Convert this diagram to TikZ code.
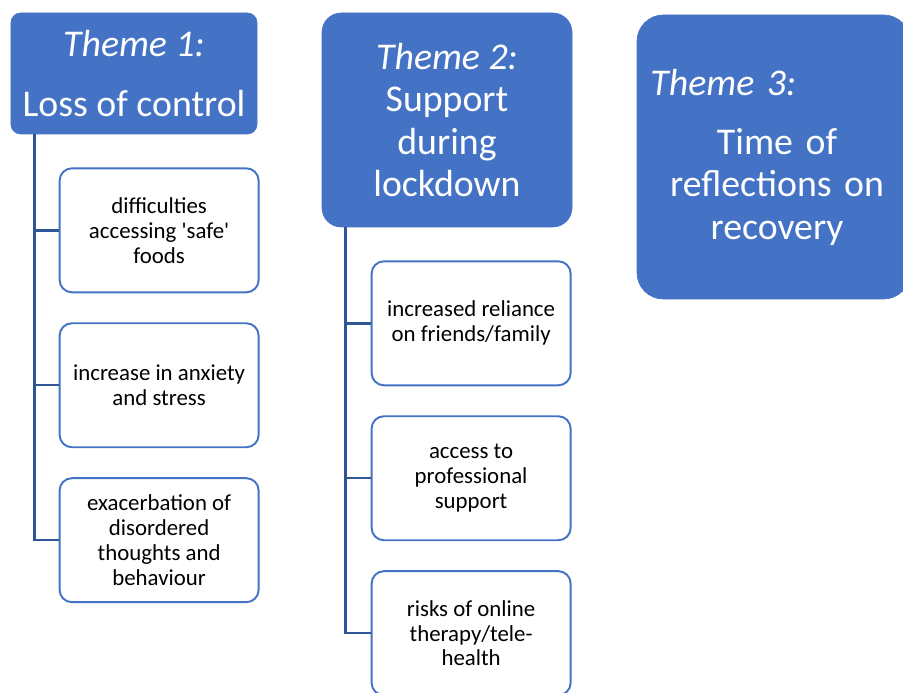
\documentclass[tikz,border=0pt]{standalone}
\usepackage{fontspec}
\setmainfont{Carlito}
\usetikzlibrary{positioning}
\definecolor{themeblue}{HTML}{4472C4}
\definecolor{linkblue}{HTML}{2F5597}

\begin{document}
\begin{tikzpicture}[
        themebox/.style={draw=themeblue, fill=themeblue, text=white, align=center, inner sep=0pt, font=\fontsize{21.5}{24}\selectfont},
        subbox/.style={draw=themeblue, fill=white, line width=1.1pt, rounded corners=7pt, minimum width=3.98cm, minimum height=2.48cm, align=center, font=\fontsize{13}{14.2}\selectfont},
        link/.style={draw=linkblue, line width=1.4pt},
        node distance=0.58cm
        ]
        \useasboundingbox (0,0) rectangle (18.06,-13.86);
        % themes
        \node[themebox, rounded corners=5.5pt, minimum width=4.92cm, minimum height=2.42cm] (t1) at (2.68,-1.47)
              {\textit{Theme 1:}\\[10pt]Loss of control};
        \node[themebox, rounded corners=11pt, minimum width=5.0cm, minimum height=4.28cm]   (t2) at (8.94,-2.40)
              {\textit{Theme 2:}\\Support\\during\\lockdown};
        \node[themebox, rounded corners=15pt, minimum width=5.46cm, minimum height=5.68cm, text width=136pt] (t3) at (15.47,-3.14)
              {\makebox[136pt][l]{\hspace*{-2pt}\textit{Theme 3:}}\\[10pt]\hspace*{4pt}Time of\\\hspace*{4pt}reflections on\\\hspace*{4pt}recovery};
        % subthemes of theme 1
        \node[subbox, anchor=north west] (s11) at ([xshift=0.96cm, yshift=-0.66cm]t1.south west) {difficulties\\accessing \textquotesingle safe\textquotesingle\\foods};
        \node[subbox]                    (s12) [below=of s11] {increase in anxiety\\and stress};
        \node[subbox]                    (s13) [below=of s12] {exacerbation of\\disordered\\thoughts and\\behaviour};
        % subthemes of theme 2
        \node[subbox, anchor=north west] (s21) at ([xshift=0.98cm, yshift=-0.66cm]t2.south west) {increased reliance\\on friends/family};
        \node[subbox]                    (s22) [below=of s21] {access to\\professional\\support};
        \node[subbox]                    (s23) [below=of s22] {risks of online\\therapy/tele-\\health};
        % links
        \draw[link] ([xshift=0.48cm]t1.south west) |- (s11.west);
        \draw[link] ([xshift=0.48cm]t1.south west) |- (s12.west);
        \draw[link] ([xshift=0.48cm]t1.south west) |- (s13.west);
        \draw[link] ([xshift=0.48cm]t2.south west) |- (s21.west);
        \draw[link] ([xshift=0.48cm]t2.south west) |- (s22.west);
        \draw[link] ([xshift=0.48cm]t2.south west) |- (s23.west);
\end{tikzpicture}
\end{document}
